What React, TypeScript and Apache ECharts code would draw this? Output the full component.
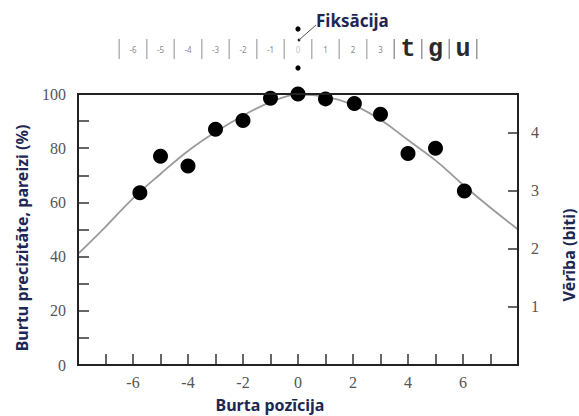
import { useEffect, useRef } from "react";
import * as echarts from "echarts";

// Fitted curve of letter accuracy against letter position
const curveX = [-8, -7, -6, -5, -4, -3, -2, -1, 0, 1, 2, 3, 4, 5, 6, 7, 8];
const curveY = [41, 51, 61.5, 70.5, 79, 86, 92, 97, 99.8, 99, 96, 90.5, 83, 75.5, 66.5, 58, 50];

// Measured accuracy per letter position
const pointX = [-5.75, -5, -4, -3, -2, -1, 0, 1, 2.05, 3, 4, 5, 6.05];
const pointY = [63.6, 77, 73.4, 87, 90.2, 98.4, 100, 98.2, 96.5, 92.5, 78, 80, 64.2];

// Letter strip above the plot
const stripNumbers = [-6, -5, -4, -3, -2, -1, 0, 1, 2, 3];
const stripLetters = ["t", "g", "u"];
const stripLetterPos = [4, 5, 6];

// Tick labels
const xLabels = [-6, -4, -2, 0, 2, 4, 6];
const yLabels = [0, 20, 40, 60, 80, 100];
const bitLabels = [1, 2, 3, 4];

const NAVY = "#1d2754";
const SERIF = "'Liberation Serif', 'Times New Roman', serif";
const SANS = "'Noto Sans', 'Open Sans', sans-serif";
const MONO = "'Liberation Mono', 'Courier New', monospace";

const WIDTH = 579;
const HEIGHT = 416;
const GRID = { left: 78, right: 61, top: 94, bottom: 51 };
const X_MIN = -8;
const X_MAX = 8;

// horizontal pixel position of a letter slot, following the x axis scale
const slotX = (u: number) =>
  GRID.left + ((u - X_MIN) / (X_MAX - X_MIN)) * (WIDTH - GRID.left - GRID.right);

const textStyle = (extra: any) => ({
  ...extra,
  textAlign: extra.align,
  textVerticalAlign: extra.verticalAlign,
});

function buildGraphics() {
  const graphics: any[] = [];

  // plot frame
  graphics.push({
    type: "rect",
    z: 10,
    silent: true,
    shape: {
      x: GRID.left,
      y: GRID.top,
      width: WIDTH - GRID.left - GRID.right,
      height: HEIGHT - GRID.top - GRID.bottom,
    },
    style: { fill: "none", stroke: "#222", lineWidth: 2 },
  });

  // vertical separators of the letter strip
  for (let u = -6.5; u <= 6.5; u += 1) {
    graphics.push({
      type: "line",
      shape: { x1: slotX(u), y1: 39, x2: slotX(u), y2: 59 },
      style: { stroke: u >= 3.5 ? "#999" : "#b4b4b4", lineWidth: 1.5 },
    });
  }

  stripNumbers.forEach((n) => {
    graphics.push({
      type: "text",
      x: slotX(n),
      y: 49,
      style: textStyle({
        text: String(n),
        fill: n === 0 ? "#c4c4c4" : "#8a8a8a",
        fontSize: 8,
        fontFamily: SANS,
        align: "center",
        verticalAlign: "middle",
      }),
    });
  });

  stripLetters.forEach((t, i) => {
    graphics.push({
      type: "text",
      x: slotX(stripLetterPos[i]),
      y: 49,
      style: textStyle({
        text: t,
        fill: "#2a2a2a",
        fontSize: 25,
        fontWeight: "bold",
        fontFamily: MONO,
        align: "center",
        verticalAlign: "middle",
      }),
    });
  });

  // fixation marker
  const fx = slotX(0);
  graphics.push(
    { type: "circle", shape: { cx: fx, cy: 29, r: 2.6 }, style: { fill: "#000" } },
    { type: "circle", shape: { cx: fx, cy: 68, r: 2.6 }, style: { fill: "#000" } },
    { type: "circle", shape: { cx: fx + 1, cy: 40, r: 1.4 }, style: { fill: "#222" } },
    {
      type: "line",
      shape: { x1: fx + 1, y1: 40, x2: fx + 18, y2: 25 },
      style: { stroke: "#555", lineWidth: 1 },
    },
    {
      type: "text",
      x: fx + 18,
      y: 20,
      style: textStyle({
        text: "Fiksācija",
        fill: NAVY,
        fontSize: 17,
        fontWeight: "bold",
        fontFamily: SANS,
        align: "left",
        verticalAlign: "middle",
      }),
    }
  );

  // axis titles
  const title = (text: string, x: number, y: number, rotated: boolean) => ({
    type: "text",
    x,
    y,
    rotation: rotated ? Math.PI / 2 : 0,
    style: textStyle({
      text,
      fill: NAVY,
      fontSize: 16,
      fontWeight: "bold",
      fontFamily: SANS,
      align: "center",
      verticalAlign: "middle",
    }),
  });
  graphics.push(
    title("Burtu precizitāte, pareizi (%)", 22, 238, true),
    title("Vērība (biti)", 569, 255, true),
    title("Burta pozīcija", 270, 405, false)
  );
  return graphics;
}

export default function App() {
  const ref = useRef<HTMLDivElement>(null);

  useEffect(() => {
    if (!ref.current) return;
    const chart = echarts.init(ref.current, null, { renderer: "svg" });

    const frame = () => ({ show: true, onZero: false, lineStyle: { color: "#222", width: 2 } });
    const tick = (length: number) => ({
      inside: true,
      length,
      lineStyle: { color: "#333", width: 1.5 },
    });
    const label = (margin: number, keep: number[]) => ({
      color: "#555",
      fontFamily: SERIF,
      fontSize: 16,
      margin,
      formatter: (v: number) => (keep.includes(v) ? String(v) : ""),
    });

    chart.setOption({
      animation: false,
      grid: GRID,
      xAxis: [
        {
          type: "value",
          min: X_MIN,
          max: X_MAX,
          interval: 1,
          axisLine: frame(),
          axisTick: tick(11),
          splitLine: { show: false },
          axisLabel: label(9, xLabels),
        },
        {
          // top edge of the frame
          type: "value",
          position: "top",
          min: X_MIN,
          max: X_MAX,
          axisLine: frame(),
          axisTick: { show: false },
          axisLabel: { show: false },
          splitLine: { show: false },
        },
      ],
      yAxis: [
        {
          type: "value",
          min: 0,
          max: 100,
          interval: 10,
          axisLine: frame(),
          axisTick: tick(11),
          splitLine: { show: false },
          axisLabel: label(12, yLabels),
        },
        {
          type: "value",
          position: "right",
          min: 0,
          max: 4.66,
          interval: 1,
          axisLine: frame(),
          axisTick: tick(10),
          splitLine: { show: false },
          axisLabel: label(13, bitLabels),
        },
      ],
      graphic: buildGraphics(),
      series: [
        {
          type: "line",
          data: curveX.map((x, i) => [x, curveY[i]]),
          smooth: 0.4,
          showSymbol: false,
          silent: true,
          lineStyle: { color: "#9a9a9a", width: 1.8 },
          z: 2,
        },
        {
          type: "scatter",
          data: pointX.map((x, i) => [x, pointY[i]]),
          symbolSize: 15,
          clip: false,
          itemStyle: { color: "#000", opacity: 1 },
          z: 3,
        },
      ],
    });

    return () => chart.dispose();
  }, []);

  return (
    <div style={{ position: "fixed", left: 0, top: 0, background: "#fff" }}>
      <div ref={ref} style={{ width: WIDTH, height: HEIGHT }} />
    </div>
  );
}
